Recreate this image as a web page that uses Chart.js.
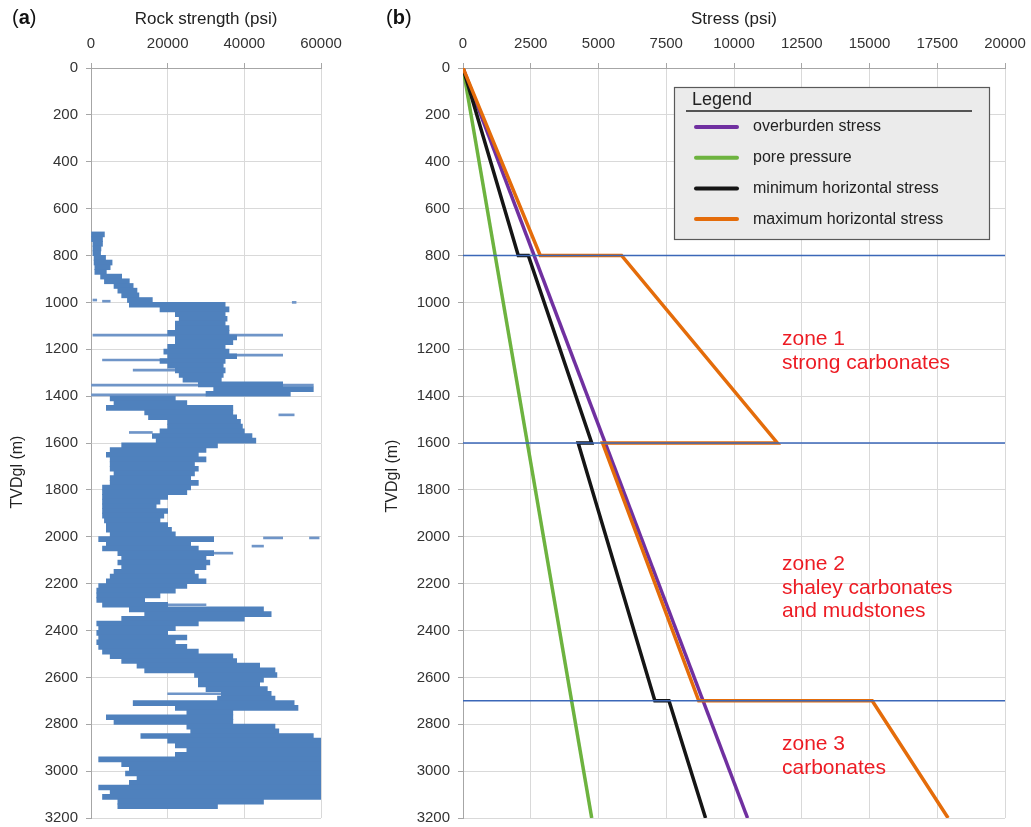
<!DOCTYPE html>
<html>
<head>
<meta charset="utf-8">
<script src="https://cdn.jsdelivr.net/npm/chart.js@4.4.1/dist/chart.umd.min.js"></script>
<style>
  body {
    margin: 0;
    width: 1031px;
    height: 827px;
    background: #fff;
    position: relative;
    overflow: hidden;
    font-family: "Liberation Sans", Arial, sans-serif;
  }
  canvas { position: absolute; top: 0; }
  #chartA { left: 0; }
  #chartB { left: 350px; }
  .panel { position: absolute; top: 6px; font-size: 20px; color: #111; }
  .zone {
    position: absolute;
    left: 782px;
    color: #ed1c24;
    font-size: 21px;
    line-height: 23.5px;
  }
</style>
</head>
<body>
<canvas id="chartA" width="350" height="827"></canvas>
<canvas id="chartB" width="681" height="827"></canvas>

<div class="panel" style="left:12px">(<b>a</b>)</div>
<div class="panel" style="left:386px">(<b>b</b>)</div>

<div class="zone" style="top:326px">zone 1<br>strong carbonates</div>
<div class="zone" style="top:551px">zone 2<br>shaley carbonates<br>and mudstones</div>
<div class="zone" style="top:731px">zone 3<br>carbonates</div>

<script>
// ---- panel (a): rock strength log, dense band per 20 m depth bin (top of bin)
const BIN = 20;
const binTop = [
  700, 720, 740, 760, 780, 800, 820, 840, 860, 880, 900, 920, 940, 960, 980,
  1000, 1020, 1040, 1060, 1080, 1100, 1120, 1140, 1160, 1180, 1200, 1220, 1240, 1260, 1280,
  1300, 1320, 1340, 1360, 1380, 1400, 1420, 1440, 1460, 1480, 1500, 1520, 1540, 1560, 1580,
  1600, 1620, 1640, 1660, 1680, 1700, 1720, 1740, 1760, 1780, 1800, 1820, 1840, 1860, 1880,
  1900, 1920, 1940, 1960, 1980, 2000, 2020, 2040, 2060, 2080, 2100, 2120, 2140, 2160, 2180,
  2200, 2220, 2240, 2260, 2280, 2300, 2320, 2340, 2360, 2380, 2400, 2420, 2440, 2460, 2480,
  2500, 2520, 2540, 2560, 2580, 2600, 2620, 2640, 2660, 2680, 2700, 2720, 2740, 2760, 2780,
  2800, 2820, 2840, 2860, 2880, 2900, 2920, 2940, 2960, 2980, 3000, 3020, 3040, 3060, 3080,
  3100, 3120, 3140
];
const bandLow = [
  0, 0, 500, 500, 500, 800, 800, 1000, 1000, 2500, 3500, 6000, 7000, 8000, 9500,
  10000, 18000, 22000, 23000, 22000, 22000, 20000, 22000, 22000, 20000, 19000, 20000, 18000, 20000, 22000,
  23000, 24000, 28000, 32000, 30000, 5000, 6000, 4000, 14000, 15000, 20000, 20000, 18000, 16000, 17000,
  8000, 5000, 4000, 5000, 5000, 5000, 6000, 5000, 5000, 3000, 3000, 3000, 3000, 3000, 3000,
  3000, 3500, 4000, 4000, 5000, 2000, 4000, 3000, 7000, 8000, 7000, 8000, 6000, 5000, 4000,
  2000, 1500, 1500, 1500, 3000, 10000, 14000, 8000, 1500, 2000, 1500, 2000, 1500, 2000, 3000,
  5000, 8000, 12000, 14000, 27000, 28000, 28000, 30000, 34000, 33000, 11000, 22000, 25000, 4000, 6000,
  25000, 26000, 13000, 20000, 22000, 25000, 22000, 2000, 8000, 10000, 9000, 12000, 10000, 2000, 5000,
  3000, 7000, 7000
];
const bandHigh = [
  3500, 3000, 3000, 2600, 2500, 3800, 5500, 5000, 4000, 8000, 10000, 11000, 12000, 12500, 16000,
  35000, 36000, 35000, 35500, 35000, 36000, 36000, 38000, 37000, 35000, 36000, 38000, 35000, 34500, 35000,
  34500, 34000, 50000, 58000, 52000, 22000, 25000, 37000, 37000, 38000, 39000, 39500, 40000, 42000, 43000,
  33000, 30000, 28000, 30000, 27000, 28000, 27000, 26000, 28000, 26000, 25000, 20000, 18000, 17000, 20000,
  19000, 18000, 20000, 21000, 22000, 32000, 26000, 28000, 32000, 30000, 31000, 30000, 27000, 28000, 30000,
  25000, 22000, 18000, 14000, 20000, 45000, 47000, 40000, 28000, 22000, 20000, 25000, 22000, 25000, 28000,
  37000, 38000, 44000, 48000, 48500, 45000, 44000, 46000, 47000, 48000, 53000, 54000, 37000, 37000, 37000,
  48000, 49000, 58000, 60000, 60000, 60000, 60000, 60000, 60000, 60000, 60000, 60000, 60000, 60000, 60000,
  60000, 45000, 33000
];

// stray readings outside the dense band
const strayDepth = [990, 995, 1000, 1140, 1225, 1246, 1289, 1353, 1395, 1480, 1555, 2005, 2005, 2040, 2070, 2290, 2670];
const strayLow  = [500, 3000, 52500, 500, 35000, 3000, 11000, 0, 0, 49000, 10000, 45000, 57000, 42000, 32000, 20000, 20000];
const strayHigh = [1500, 5000, 53500, 50000, 50000, 26000, 34500, 58000, 30000, 53000, 16000, 50000, 59500, 45000, 37000, 30000, 34000];

// ---- panel (b): stress profiles
const overburdenDepth = [0, 3200];
const overburdenStress = [0, 10500];
const poreDepth = [0, 3200];
const poreStress = [0, 4750];
const minHDepth = [0, 800, 800, 1600, 1600, 2700, 2700, 3200];
const minHStress = [0, 2040, 2410, 4750, 4250, 7080, 7600, 8950];
const maxHDepth = [0, 800, 800, 1600, 1600, 2700, 2700, 3200];
const maxHStress = [0, 2850, 5850, 11600, 5150, 8700, 15100, 17900];
const zoneTops = [800, 1600, 2700];

Chart.defaults.font.family = "'Liberation Sans', Arial, sans-serif";
Chart.defaults.font.size = 15;
Chart.defaults.color = "#333";

const GRID = "#d9d9d9";
const AXIS = "#a6a6a6";

function toPoints(xs, ys) {
  return xs.map((x, i) => ({ x: x, y: ys[i] }));
}

function plainNumber(v) {
  return String(v);
}

// vertical axis title drawn on the canvas
function sideTitle(x, y) {
  return {
    id: "sideTitle",
    afterDraw(chart) {
      let ctx = chart.ctx;
      ctx.save();
      ctx.translate(x, y);
      ctx.rotate(-Math.PI / 2);
      ctx.font = "16px 'Liberation Sans', Arial, sans-serif";
      ctx.fillStyle = "#222";
      ctx.textAlign = "center";
      ctx.textBaseline = "middle";
      ctx.fillText("TVDgl (m)", 0, 0);
      ctx.restore();
    },
  };
}

function depthAxis(width) {
  return {
    type: "linear",
    reverse: true,
    min: 0,
    max: 3200,
    offset: false,
    afterFit: (s) => {
      s.width = width;
      s.paddingTop = 0;
      s.paddingBottom = 0;
    },
    ticks: { stepSize: 200, padding: 8, color: "#333", callback: plainNumber },
    grid: { color: GRID, tickColor: AXIS, tickLength: 5, offset: false },
    border: { color: AXIS },
  };
}

function topAxis(max, step, title) {
  return {
    type: "linear",
    position: "top",
    min: 0,
    max: max,
    afterFit: (s) => {
      s.height = 68;
      s.paddingLeft = 0;
      s.paddingRight = 0;
    },
    ticks: { stepSize: step, padding: 10, maxRotation: 0, color: "#333", callback: plainNumber },
    grid: { color: GRID, tickColor: AXIS, tickLength: 5 },
    border: { color: AXIS },
    title: {
      display: true,
      text: title,
      color: "#222",
      font: { size: 17 },
      padding: { top: 9, bottom: 0 },
    },
  };
}

// ---- chart (a)
new Chart(document.getElementById("chartA"), {
  type: "bar",
  data: {
    datasets: [
      {
        label: "rock strength",
        data: binTop.map((d, i) => ({ y: d + BIN / 2, x: [bandLow[i], bandHigh[i]] })),
        backgroundColor: "#4f81bd",
        borderWidth: 0,
        barThickness: 5,
        grouped: false,
      },
      {
        label: "stray",
        data: strayDepth.map((d, i) => ({ y: d, x: [strayLow[i], strayHigh[i]] })),
        backgroundColor: "#6f95c8",
        borderWidth: 0,
        barThickness: 2,
        grouped: false,
      },
    ],
  },
  options: {
    indexAxis: "y",
    responsive: false,
    animation: false,
    layout: { padding: { left: 0, top: 0, right: 29, bottom: 9 } },
    plugins: { legend: { display: false }, tooltip: { enabled: false } },
    scales: {
      x: topAxis(60000, 20000, "Rock strength (psi)"),
      y: depthAxis(91),
    },
  },
  plugins: [sideTitle(18, 472)],
});

// ---- chart (b)
const legendRows = [0, 1, 2, 3];

const legendBox = {
  id: "legendBox",
  afterDatasetsDraw(chart) {
    let ctx = chart.ctx;
    let x = 324, y = 87, w = 315, h = 152;
    ctx.save();
    ctx.fillStyle = "#ebebeb";
    ctx.fillRect(x, y, w, h);
    ctx.strokeStyle = "#595959";
    ctx.lineWidth = 1.2;
    ctx.strokeRect(x + 0.5, y + 0.5, w, h);

    ctx.fillStyle = "#222";
    ctx.font = "18px 'Liberation Sans', Arial, sans-serif";
    ctx.textBaseline = "middle";
    ctx.fillText("Legend", x + 18, y + 13);
    ctx.beginPath();
    ctx.moveTo(x + 12, y + 24);
    ctx.lineTo(x + 298, y + 24);
    ctx.lineWidth = 1.3;
    ctx.strokeStyle = "#222";
    ctx.stroke();

    ctx.font = "16px 'Liberation Sans', Arial, sans-serif";
    legendRows.forEach(function (idx, i) {
      let ds = chart.data.datasets[idx];
      let rowY = y + 40 + i * 30.7;
      ctx.beginPath();
      ctx.moveTo(x + 22, rowY);
      ctx.lineTo(x + 63, rowY);
      ctx.strokeStyle = ds.borderColor;
      ctx.lineWidth = 4;
      ctx.lineCap = "round";
      ctx.stroke();
      ctx.fillStyle = "#222";
      ctx.fillText(ds.label, x + 79, rowY);
    });
    ctx.restore();
  },
};

let stressSets = [
  { label: "overburden stress", data: toPoints(overburdenStress, overburdenDepth), borderColor: "#7030a0", order: 3 },
  { label: "pore pressure", data: toPoints(poreStress, poreDepth), borderColor: "#6db33f", order: 4 },
  { label: "minimum horizontal stress", data: toPoints(minHStress, minHDepth), borderColor: "#151515", order: 2 },
  { label: "maximum horizontal stress", data: toPoints(maxHStress, maxHDepth), borderColor: "#e46c0a", order: 1 },
];
stressSets.forEach(function (ds) {
  ds.showLine = true;
  ds.pointRadius = 0;
  ds.borderWidth = 3.5;
  ds.tension = 0;
});

let zoneSets = zoneTops.map(function (d) {
  return {
    label: "zone " + d,
    data: [{ x: 0, y: d }, { x: 20000, y: d }],
    showLine: true,
    pointRadius: 0,
    borderColor: "#3b67b8",
    borderWidth: 1.5,
    order: 0,
  };
});

new Chart(document.getElementById("chartB"), {
  type: "scatter",
  data: { datasets: stressSets.concat(zoneSets) },
  options: {
    responsive: false,
    animation: false,
    layout: { padding: { left: 0, top: 0, right: 26, bottom: 9 } },
    plugins: { legend: { display: false }, tooltip: { enabled: false } },
    scales: {
      x: topAxis(20000, 2500, "Stress (psi)"),
      y: depthAxis(113),
    },
  },
  plugins: [legendBox, sideTitle(43, 476)],
});
</script>
</body>
</html>
